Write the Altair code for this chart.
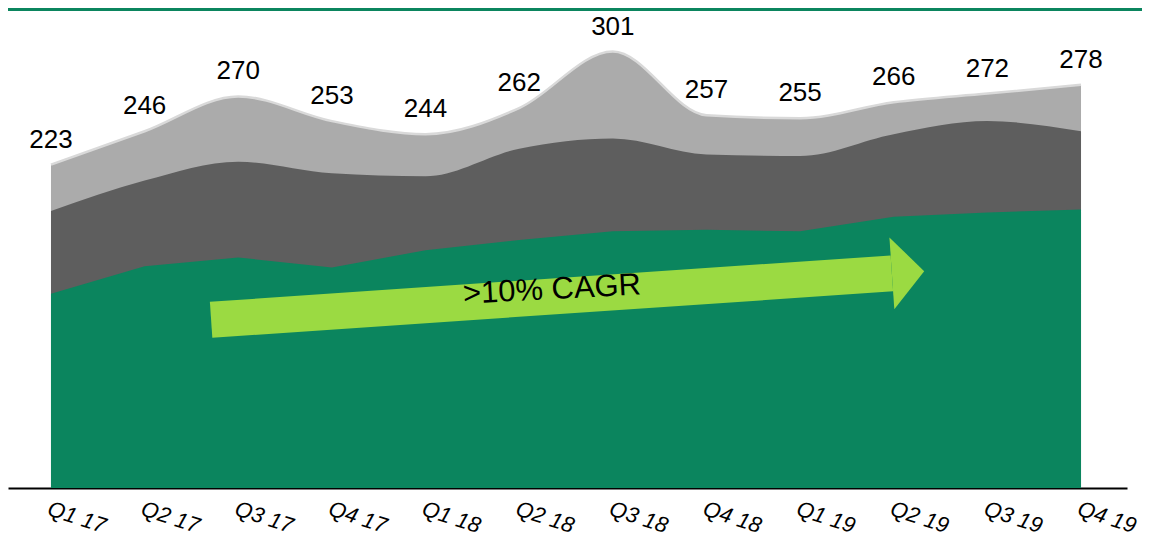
import json
import altair as alt
import pandas as pd

# ---- data ----
quarters = ["Q1 17", "Q2 17", "Q3 17", "Q4 17", "Q1 18", "Q2 18",
            "Q3 18", "Q4 18", "Q1 19", "Q2 19", "Q3 19", "Q4 19"]
totals = [223, 246, 270, 253, 244, 262, 301, 257, 255, 266, 272, 278]
green_vals = [134, 153, 159, 152, 164, 171, 177, 178, 177, 187, 190, 192]
dark_vals = [57, 59, 66, 65, 51, 63, 64, 52, 52, 57, 63, 54]

cagr_label = ">10% CAGR"
arrow_start = (1.71, 116.0)   # (quarter index, value)
arrow_end = (8.98, 148.0)
cagr_pos = (5.35, 136.5)

df = pd.DataFrame({
    "i": list(range(len(quarters))),
    "q": quarters,
    "total": totals,
    "green": green_vals,
    "dark": dark_vals,
})
df["darktop"] = df["green"] + df["dark"]

arrow_df = pd.DataFrame({"x": [arrow_start[0]], "y": [arrow_start[1]],
                         "x2": [arrow_end[0]], "y2": [arrow_end[1]]})
head_df = pd.DataFrame({"x": [arrow_end[0]], "y": [arrow_end[1]]})
cagr_df = pd.DataFrame({"x": [cagr_pos[0]], "y": [cagr_pos[1]], "t": [cagr_label]})

GREEN = "#0b855e"
DARK = "#5e5e5e"
LIGHT = "#ababab"
LIME = "#9bda42"
FONT = "Liberation Sans"

W, H = 1119, 480
PAD_R, PAD_B = 15, 52

xscale = alt.Scale(domain=[-0.459, 11.491], nice=False, zero=False)
yscale = alt.Scale(domain=[0, 331], nice=False, zero=True)

xaxis = alt.Axis(
    values=list(range(len(quarters))),
    labelExpr=f"{json.dumps(quarters)}[datum.value]",
    ticks=False, grid=False, domain=True, domainColor="black", domainWidth=2,
    labelAngle=18, labelAlign="left", labelBaseline="top",
    labelFontSize=22, labelFont=FONT, labelFontStyle="italic", labelColor="black",
    labelPadding=10, labelOverlap=False, title=None,
)


def X(field):
    return alt.X(f"{field}:Q", scale=xscale, axis=xaxis)


def Y(field):
    return alt.Y(f"{field}:Q", scale=yscale, axis=None)


base = alt.Chart(df)

light = base.mark_area(color=LIGHT, interpolate="monotone").encode(x=X("i"), y=Y("total"))
dark = base.mark_area(color=DARK, interpolate="monotone").encode(x=X("i"), y=Y("darktop"))
green = base.mark_area(color=GREEN, interpolate="linear").encode(x=X("i"), y=Y("green"))
topline = base.mark_line(color="#d9d9d9", strokeWidth=2.5, interpolate="monotone").encode(
    x=X("i"), y=Y("total"))
labels = base.mark_text(dy=-17, baseline="alphabetic", align="center", fontSize=26,
                        font=FONT, color="black").encode(
    x=X("i"), y=Y("total"), text=alt.Text("total:Q"))

shaft = alt.Chart(arrow_df).mark_rule(color=LIME, strokeWidth=36, strokeCap="butt").encode(
    x=X("x"), y=Y("y"), x2="x2:Q", y2="y2:Q")
head = alt.Chart(head_df).mark_point(
    shape="M0,-1L0.9,0L0,1Z", size=5184, filled=True, opacity=1, color=LIME,
    strokeWidth=0, angle=356.1).encode(x=X("x"), y=Y("y"))
cagr = alt.Chart(cagr_df).mark_text(fontSize=31, font=FONT, color="black", angle=357,
                                    align="center", baseline="middle").encode(
    x=X("x"), y=Y("y"), text="t:N")

border = alt.Chart(df).mark_rule(color=GREEN, strokeWidth=3).encode(
    x=alt.value(0), x2=alt.value(W + PAD_R), y=alt.value(1.5))

chart = alt.layer(light, dark, green, topline, labels, shaft, head, cagr, border).properties(
    width=W, height=H,
    autosize=alt.AutoSizeParams(type="none"),
    padding={"left": 0, "top": 0, "right": PAD_R, "bottom": PAD_B},
).configure_view(stroke=None)

chart.save("out.html", embed_options={"renderer": "svg", "actions": False})
